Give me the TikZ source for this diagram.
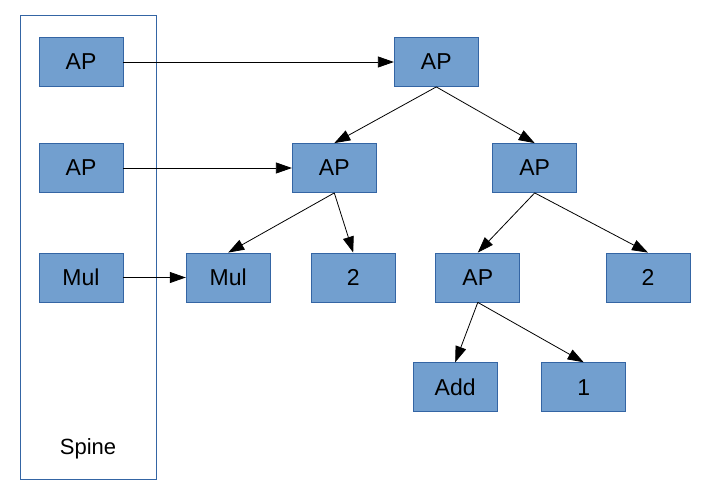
\documentclass[tikz,border=0pt]{standalone}
\usepackage{fontspec}
\setmainfont{Liberation Sans}
\usetikzlibrary{arrows.meta}
\definecolor{boxfill}{HTML}{729FCF}
\definecolor{boxline}{HTML}{3465A4}
\begin{document}
\begin{tikzpicture}[x=1pt,y=-1pt,
  bx/.style={draw=boxline,fill=boxfill,line width=0.8pt,minimum width=84pt,minimum height=49pt,inner sep=0pt,font=\fontsize{23}{26}\selectfont},
  arr/.style={line width=0.8pt,-{Triangle[length=16pt,width=11pt]}}]
\useasboundingbox (0,0) rectangle (705,501);
\draw[boxline,line width=0.8pt] (20.7,15) rectangle (156.7,479.3);
\node[font=\fontsize{22}{25}\selectfont] (spinelbl) at (88,449) {Spine};
\node[bx] (s1) at (81,62) {AP};
\node[bx] (s2) at (81,168) {AP};
\node[bx] (s3) at (81,277.5) {Mul};
\node[bx] (top) at (436.3,62) {AP};
\node[bx] (apl) at (334.3,168) {AP};
\node[bx] (apr) at (534.7,168) {AP};
\node[bx] (mul) at (228.2,277.5) {Mul};
\node[bx] (twol) at (353.2,277.5) {2};
\node[bx] (ap3) at (477.8,277.5) {AP};
\node[bx] (twor) at (648,277.5) {2};
\node[bx] (add) at (455.2,387.2) {Add};
\node[bx] (one) at (583.7,387.2) {1};
\draw[arr] (s1.east) -- (top.west);
\draw[arr] (s2.east) -- (apl.west);
\draw[arr] (s3.east) -- (mul.west);
\draw[arr] (top.south) -- (apl.north);
\draw[arr] (top.south) -- (apr.north);
\draw[arr] (apl.south) -- (mul.north);
\draw[arr] (apl.south) -- (twol.north);
\draw[arr] (apr.south) -- (ap3.north);
\draw[arr] (apr.south) -- (twor.north);
\draw[arr] (ap3.south) -- (add.north);
\draw[arr] (ap3.south) -- (one.north);
\end{tikzpicture}
\end{document}
